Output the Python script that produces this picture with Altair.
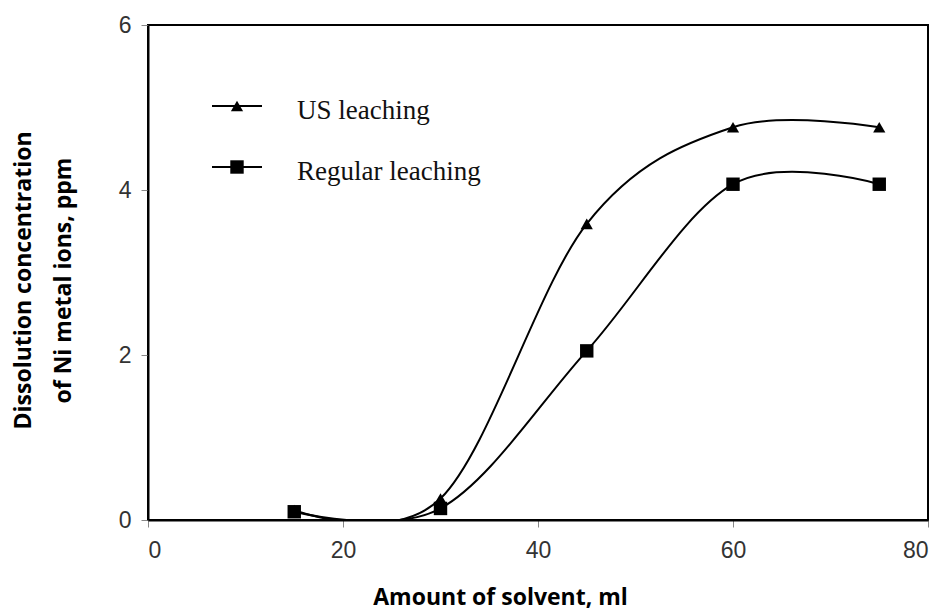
import altair as alt
import pandas as pd

solvent_ml = [15, 30, 45, 60, 75]
us_leaching = [0.12, 0.26, 3.59, 4.76, 4.76]
regular_leaching = [0.10, 0.14, 2.05, 4.07, 4.07]
series_names = ["US leaching", "Regular leaching"]
series_shapes = ["triangle-up", "square"]
series_sizes = [150, 180]
x_ticks = [0, 20, 40, 60, 80]
y_ticks = [0, 2, 4, 6]
x_title = "Amount of solvent, ml"
y_title = ["Dissolution concentration", "of Ni metal ions, ppm"]

df = pd.DataFrame({
    "x": solvent_ml * 2,
    "y": us_leaching + regular_leaching,
    "series": [series_names[0]] * len(solvent_ml) + [series_names[1]] * len(solvent_ml),
})

W, H = 780, 495
xscale = alt.Scale(domain=[0, 80], nice=False, zero=False)
yscale = alt.Scale(domain=[0, 6], nice=False)

tick_font = "Liberation Sans"
title_font = "Open Sans"

x_axis = alt.Axis(
    values=x_ticks, title=x_title, grid=False, format="d",
    labelFont=tick_font, labelFontSize=23, labelColor="#333333", labelPadding=12,
    tickColor="#888888", tickSize=7, tickWidth=1,
    domainColor="black", domainWidth=2,
    titleFont=title_font, titleFontSize=23, titleFontWeight="bold", titleColor="black",
    titleBaseline="middle", titleY=77, titleX=352, titleAlign="center",
)
y_axis = alt.Axis(
    values=y_ticks, title=y_title, grid=False, format="d",
    labelFont=tick_font, labelFontSize=23, labelColor="#333333", labelPadding=10,
    tickColor="#888888", tickSize=7, tickWidth=1,
    domainColor="black", domainWidth=2,
    titleFont=title_font, titleFontSize=23, titleFontWeight="bold", titleColor="black",
    titleAngle=270, titleBaseline="top", titleLineHeight=40, titleX=-136, titleY=255,
    titleAlign="center",
)

base = alt.Chart(df)

lines = base.mark_line(
    interpolate="cardinal", color="black", strokeWidth=2, clip=True
).encode(
    x=alt.X("x:Q", scale=xscale, axis=x_axis),
    y=alt.Y("y:Q", scale=yscale, axis=y_axis),
    detail="series:N",
)

points = base.mark_point(filled=True, color="black", opacity=1).encode(
    x=alt.X("x:Q", scale=xscale),
    y=alt.Y("y:Q", scale=yscale),
    shape=alt.Shape("series:N", scale=alt.Scale(domain=series_names, range=series_shapes), legend=None),
    size=alt.Size("series:N", scale=alt.Scale(domain=series_names, range=series_sizes), legend=None),
)

# manual legend (layout positions in pixels)
legend_layers = []
legend_rows_y = [81, 142]
for name, shp, sz, ly in zip(series_names, series_shapes, series_sizes, legend_rows_y):
    ldf = pd.DataFrame({"label": [name]})
    lc = alt.Chart(ldf)
    legend_layers.append(
        lc.mark_rule(color="black", strokeWidth=2).encode(
            x=alt.value(64), x2=alt.value(114), y=alt.value(ly)
        )
    )
    legend_layers.append(
        lc.mark_point(shape=shp, filled=True, color="black", opacity=1, size=sz).encode(
            x=alt.value(89), y=alt.value(ly)
        )
    )
    legend_layers.append(
        lc.mark_text(align="left", baseline="middle", font="Liberation Serif",
                     fontSize=27, color="#111111").encode(
            x=alt.value(149), y=alt.value(ly + 5), text="label:N"
        )
    )

chart = alt.layer(lines, points, *legend_layers).properties(
    width=W, height=H,
    autosize=alt.AutoSizeParams(type="none"),
    padding={"left": 140, "top": 17, "right": 9, "bottom": 95},
).configure_view(
    stroke="black", strokeWidth=2
)

chart.save("out.html", embed_options={"renderer": "svg", "actions": False})
